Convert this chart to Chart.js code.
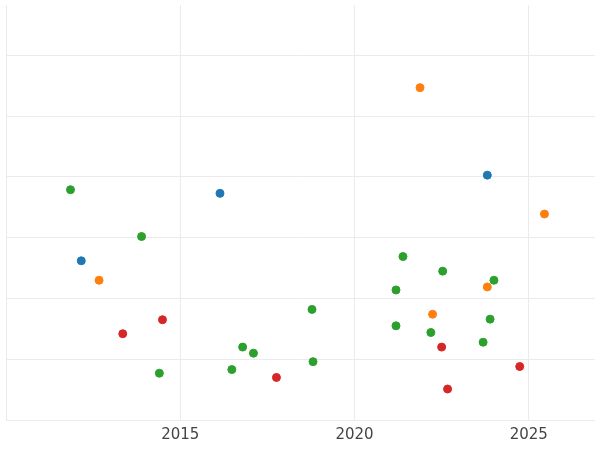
<!DOCTYPE html>
<html lang="en">
<head>
    <meta charset="UTF-8">
    <title>Scatter</title>
    <script src="https://cdn.jsdelivr.net/npm/chart.js"></script>
    <style>
        body { margin: 0; background: #fff; }
        #wrap { width: 600px; height: 450px; }
    </style>
</head>
<body>
    <div id="wrap"><canvas id="chart"></canvas></div>
    <script>
        // values: [year, value]
        const blue = [[2012.16, 2.62], [2016.14, 3.73], [2023.81, 4.03]];
        const orange = [[2021.88, 5.47], [2025.45, 3.39], [2012.67, 2.30], [2023.81, 2.19], [2022.24, 1.74]];
        const green = [[2011.85, 3.79], [2013.89, 3.02], [2021.39, 2.69], [2022.53, 2.45], [2024.0, 2.30],
            [2021.19, 2.14], [2018.78, 1.82], [2021.19, 1.55], [2023.89, 1.66], [2022.19, 1.44],
            [2023.69, 1.28], [2016.79, 1.20], [2017.1, 1.10], [2018.81, 0.96], [2016.48, 0.83], [2014.4, 0.77]];
        const red = [[2014.49, 1.65], [2013.35, 1.42], [2022.5, 1.20], [2024.74, 0.88], [2017.76, 0.70], [2022.67, 0.51]];
        const xTicks = [2010, 2015, 2020, 2025];
        const yTicks = [0, 1, 2, 3, 4, 5, 6];

        const toPts = arr => arr.map(p => ({ x: p[0], y: p[1] }));
        const ds = (data, color) => ({
            data: toPts(data), backgroundColor: color, borderColor: color,
            pointRadius: 4, pointHoverRadius: 4
        });

        new Chart(document.getElementById('chart'), {
            type: 'scatter',
            data: {
                datasets: [
                    ds(blue, '#1f77b4'),
                    ds(orange, '#ff7f0e'),
                    ds(green, '#2ca02c'),
                    ds(red, '#d62728')
                ]
            },
            options: {
                responsive: true,
                maintainAspectRatio: false,
                animation: false,
                layout: { padding: { left: 5, top: 0, right: 0, bottom: 0 } },
                plugins: { legend: { display: false }, tooltip: { enabled: false } },
                scales: {
                    x: {
                        min: 2010, max: 2026.9,
                        afterBuildTicks: axis => { axis.ticks = xTicks.map(v => ({ value: v })); },
                        ticks: {
                            callback: v => v === 2010 ? '' : v,
                            color: '#444', font: { family: 'DejaVu Sans', size: 15 }, padding: 6
                        },
                        grid: { color: '#ebebeb', drawTicks: false },
                        border: { display: false }
                    },
                    y: {
                        min: 0, max: 6.83,
                        afterBuildTicks: axis => { axis.ticks = yTicks.map(v => ({ value: v })); },
                        ticks: { display: false },
                        grid: { color: '#ebebeb', drawTicks: false },
                        border: { display: false }
                    }
                }
            }
        });
    </script>
</body>
</html>
